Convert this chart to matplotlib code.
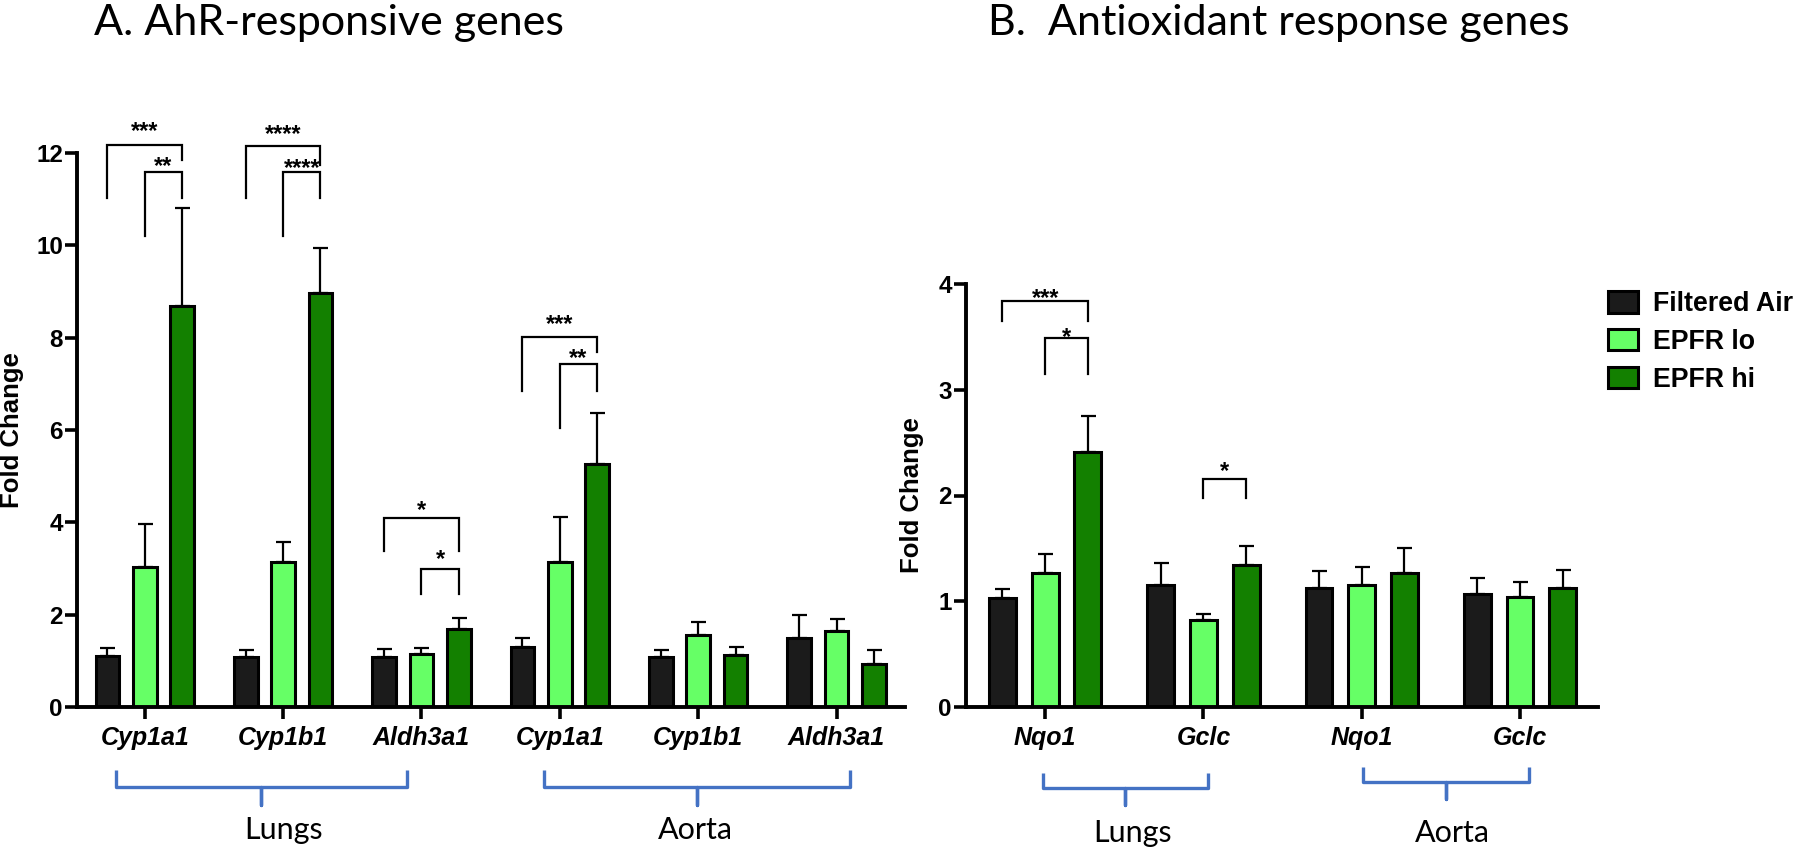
import matplotlib
matplotlib.use("Agg")
import matplotlib.pyplot as plt
import matplotlib.transforms as mtransforms
import numpy as np

# ---- data ----
GROUPS = ["Filtered Air", "EPFR lo", "EPFR hi"]
COLORS = ["#1b1b1b", "#66ff66", "#138000"]

genes_a = ["Cyp1a1", "Cyp1b1", "Aldh3a1", "Cyp1a1", "Cyp1b1", "Aldh3a1"]
fa_a = [1.11, 1.08, 1.08, 1.30, 1.09, 1.50]
fa_a_err = [0.16, 0.15, 0.17, 0.20, 0.15, 0.49]
lo_a = [3.04, 3.14, 1.14, 3.13, 1.55, 1.64]
lo_a_err = [0.92, 0.43, 0.13, 0.99, 0.30, 0.26]
hi_a = [8.68, 8.96, 1.70, 5.26, 1.13, 0.93]
hi_a_err = [2.12, 0.98, 0.23, 1.10, 0.18, 0.30]

genes_b = ["Nqo1", "Gclc", "Nqo1", "Gclc"]
fa_b = [1.03, 1.15, 1.125, 1.07]
fa_b_err = [0.09, 0.21, 0.165, 0.15]
lo_b = [1.27, 0.82, 1.15, 1.04]
lo_b_err = [0.18, 0.06, 0.17, 0.14]
hi_b = [2.41, 1.34, 1.27, 1.125]
hi_b_err = [0.34, 0.18, 0.23, 0.175]

# significance brackets: (gene idx, left series, right series, top, left leg end, right leg end, stars, star y)
sig_a = [
    (0, 0, 2, 12.17, 11.02, 11.85, "***", 12.60),
    (0, 1, 2, 11.58, 10.21, 11.02, "**", 11.85),
    (1, 0, 2, 12.16, 11.02, 11.74, "****", 12.55),
    (1, 1, 2, 11.58, 10.21, 11.02, "****", 11.81),
    (2, 0, 2, 4.10, 3.38, 3.38, "*", 4.41),
    (2, 1, 2, 2.98, 2.44, 2.44, "*", 3.33),
    (3, 0, 2, 8.01, 6.85, 7.69, "***", 8.43),
    (3, 1, 2, 7.43, 6.05, 6.85, "**", 7.70),
]
sig_b = [
    (0, 0, 2, 3.84, 3.65, 3.65, "***", 3.93),
    (0, 1, 2, 3.49, 3.15, 3.15, "*", 3.56),
    (1, 1, 2, 2.16, 1.98, 1.98, "*", 2.29),
]

# tissue braces: label, brace x span (in gene units), label x
tissues_a = [("Lungs", -0.205, 1.892, 1.0), ("Aorta", 2.885, 5.098, 3.98)]
tissues_b = [("Lungs", -0.015, 1.03, 0.55), ("Aorta", 2.01, 3.055, 2.57)]

W, H = 1800, 852
OFFSETS = [-0.27, 0.0, 0.27]
BAR_W = 0.17
BRACE_COLOR = "#4472c4"

plt.rcParams["font.family"] = ["Liberation Sans", "DejaVu Sans"]

fig = plt.figure(figsize=(W / 100, H / 100), dpi=100)


def px_box(left, top, right, bottom):
    return [left / W, 1 - bottom / H, (right - left) / W, (bottom - top) / H]


def draw_panel(ax, genes, series, errs, ymax, ystep, xlim):
    x = np.arange(len(genes))
    bars = []
    for off, vals, err, color, name in zip(OFFSETS, series, errs, COLORS, GROUPS):
        vals = np.asarray(vals)
        err = np.asarray(err)
        ax.errorbar(x + off, vals, yerr=[np.zeros_like(err), err], fmt="none",
                    ecolor="black", elinewidth=1.6, capsize=5.4, capthick=1.6, zorder=1)
        b = ax.bar(x + off, vals, width=BAR_W, color=color, edgecolor="black",
                   linewidth=2.2, label=name, zorder=2)
        bars.append(b)
    ax.set_xlim(*xlim)
    ax.set_ylim(0, ymax)
    ax.set_yticks(np.arange(0, ymax + 0.01, ystep))
    ax.set_xticks(x)
    ax.set_xticklabels(genes, fontsize=18, fontweight="bold", fontstyle="italic")
    ax.tick_params(axis="x", length=8.6, width=2.6, pad=5)
    ax.tick_params(axis="y", length=8.6, width=2.6, pad=1.5, labelsize=17.5)
    for lab in ax.get_yticklabels():
        lab.set_fontweight("bold")
    for s in ["top", "right"]:
        ax.spines[s].set_visible(False)
    for s in ["left", "bottom"]:
        ax.spines[s].set_linewidth(2.8)
    ax.set_ylabel("Fold Change", fontsize=18.5, fontweight="bold")
    return bars


def draw_sig(ax, sigs):
    for g, i, j, top, lb, rb, stars, sy in sigs:
        x0 = g + OFFSETS[i]
        x1 = g + OFFSETS[j]
        ax.plot([x0, x0, x1, x1], [lb, top, top, rb], color="black", lw=1.6,
                clip_on=False, zorder=3, solid_joinstyle="miter")
        ax.annotate(stars, ((x0 + x1) / 2, sy), xytext=(0, -9.5),
                    textcoords="offset points", ha="center", va="baseline",
                    fontsize=17, fontweight="bold", annotation_clip=False)


def draw_brace(ax, x0, x1, y_top, y_line, y_tip, label, label_x, label_y):
    tr = mtransforms.blended_transform_factory(ax.transData, fig.transFigure)
    xm = (x0 + x1) / 2
    yt, yl, yp = 1 - y_top / H, 1 - y_line / H, 1 - y_tip / H
    ax.plot([x0, x0, xm, xm, xm, x1, x1], [yt, yl, yl, yp, yl, yl, yt],
            transform=tr, color=BRACE_COLOR, lw=2.4, clip_on=False,
            solid_joinstyle="round", solid_capstyle="butt")
    ax.text(label_x, 1 - label_y / H, label, transform=tr, ha="center", va="center",
            fontsize=22, family="Lato")


# Panel A
ax_a = fig.add_axes(px_box(77, 153, 905, 707))
bars_a = draw_panel(ax_a, genes_a, [fa_a, lo_a, hi_a], [fa_a_err, lo_a_err, hi_a_err],
                    12, 2, (-0.49, 5.495))
ax_a.yaxis.set_label_coords(-0.064, 0.5)
draw_sig(ax_a, sig_a)
for label, x0, x1, lx in tissues_a:
    draw_brace(ax_a, x0, x1, 770, 787, 805, label, lx, 830)

# Panel B
ax_b = fig.add_axes(px_box(966, 284, 1598, 707))
bars_b = draw_panel(ax_b, genes_b, [fa_b, lo_b, hi_b], [fa_b_err, lo_b_err, hi_b_err],
                    4, 1, (-0.5, 3.493))
ax_b.yaxis.set_label_coords(-0.0665, 0.5)
draw_sig(ax_b, sig_b)
(l_lab, l0, l1, llx), (a_lab, a0, a1, alx) = tissues_b
draw_brace(ax_b, l0, l1, 773, 788, 805, l_lab, llx, 833)
draw_brace(ax_b, a0, a1, 767, 782, 799, a_lab, alx, 833)

# titles
fig.text(94 / W, 1 - 35 / H, "A. AhR-responsive genes", fontsize=31, family="Lato",
         va="baseline", ha="left")
fig.text(988 / W, 1 - 35 / H, "B.  Antioxidant response genes", fontsize=31,
         family="Lato", va="baseline", ha="left")

# legend
fig.legend(handles=[b[0] for b in bars_b], labels=GROUPS, loc="upper left",
           bbox_to_anchor=(1608 / W, 1 - 291 / H), frameon=False,
           prop={"size": 19.3, "weight": "bold"}, handlelength=1.12,
           handleheight=0.86, handletextpad=0.55, labelspacing=0.44,
           borderpad=0, borderaxespad=0)

fig.savefig("out.png", dpi=100, facecolor="white")
